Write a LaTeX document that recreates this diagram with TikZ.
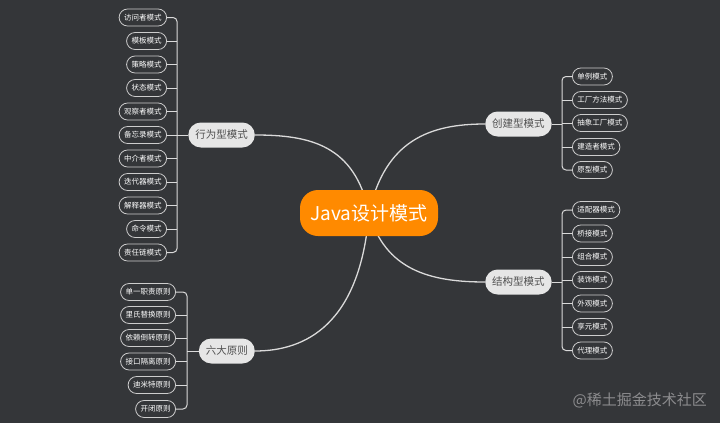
\documentclass[tikz,border=0pt]{standalone}
\usepackage{fontspec}
\newfontfamily\cjk{Noto Sans CJK SC}
\definecolor{bgc}{RGB}{52,54,57}
\definecolor{orangec}{RGB}{255,138,0}
\definecolor{branchc}{RGB}{230,230,230}
\definecolor{branchtext}{RGB}{80,80,80}
\definecolor{leafc}{RGB}{205,205,205}
\definecolor{linec}{RGB}{218,218,218}
\definecolor{markc}{RGB}{140,140,142}
\tikzset{
  leaf/.style={draw=leafc, fill=bgc, text=white, line width=0.8pt,
    font=\cjk\fontsize{7.5}{9}\selectfont, rounded corners=8.5pt,
    minimum height=17pt, inner xsep=5pt, inner ysep=0pt},
  branch/.style={fill=branchc, text=branchtext,
    font=\cjk\fontsize{10.5}{12}\selectfont, rounded corners=12.5pt,
    minimum height=25pt, inner xsep=7pt, inner ysep=0pt},
  centre/.style={fill=orangec, text=white, font=\cjk\fontsize{19}{22}\selectfont,
    rounded corners=18pt, minimum height=46pt, minimum width=138pt, inner sep=0pt},
  link/.style={draw=linec, line width=1.3pt},
  bracket/.style={draw=linec, line width=1pt, rounded corners=4pt}
}
\begin{document}
\begin{tikzpicture}[x=1pt,y=-1pt]
\fill[bgc] (0,0) rectangle (720,423);
\useasboundingbox (0,0) rectangle (720,423);

% main curves
\coordinate (c0) at (369,213);
\node[branch, anchor=east] (beh) at (255,135) {行为型模式};
\node[branch, anchor=east] (pri) at (255,351) {六大原则};
\node[branch, anchor=west] (cre) at (485,124) {创建型模式};
\node[branch, anchor=west] (str) at (485,282) {结构型模式};
\draw[link] (c0) .. controls (355,145) and (310,135) .. (beh.east);
\draw[link] (c0) .. controls (360,325) and (305,351) .. (pri.east);
\draw[link] (c0) .. controls (385,140) and (430,124) .. (cre.west);
\draw[link] (c0) .. controls (385,270) and (430,282) .. (str.west);
\node[centre] (root) at (369,213) {Java设计模式};

% behavioural leaves
\node[leaf, anchor=east] (b1) at (167,17.5) {访问者模式};
\node[leaf, anchor=east] (b2) at (167,41) {模板模式};
\node[leaf, anchor=east] (b3) at (167,64.5) {策略模式};
\node[leaf, anchor=east] (b4) at (167,88) {状态模式};
\node[leaf, anchor=east] (b5) at (167,111.5) {观察者模式};
\node[leaf, anchor=east] (b6) at (167,135) {备忘录模式};
\node[leaf, anchor=east] (b7) at (167,158.5) {中介者模式};
\node[leaf, anchor=east] (b8) at (167,182) {迭代器模式};
\node[leaf, anchor=east] (b9) at (167,205.5) {解释器模式};
\node[leaf, anchor=east] (b10) at (167,229) {命令模式};
\node[leaf, anchor=east] (b11) at (167,252.5) {责任链模式};
\coordinate (bv) at (177,135);
\draw[bracket] (beh.west) -- (bv);
\draw[bracket] (b1.east) -| (bv) |- (b11.east);
\foreach \i in {2,...,10} \draw[bracket] (b\i.east) -- (b\i.east -| bv);

% principles
\node[leaf, anchor=east] (p1) at (176,292) {单一职责原则};
\node[leaf, anchor=east] (p2) at (176,315) {里氏替换原则};
\node[leaf, anchor=east] (p3) at (176,338) {依赖倒转原则};
\node[leaf, anchor=east] (p4) at (176,361.5) {接口隔离原则};
\node[leaf, anchor=east] (p5) at (176,385) {迪米特原则};
\node[leaf, anchor=east] (p6) at (176,409) {开闭原则};
\coordinate (pv) at (187,351);
\draw[bracket] (pri.west) -- (pv);
\draw[bracket] (p1.east) -| (pv) |- (p6.east);
\foreach \i in {2,...,5} \draw[bracket] (p\i.east) -- (p\i.east -| pv);

% creational
\node[leaf, anchor=west] (c1) at (572,76.5) {单例模式};
\node[leaf, anchor=west] (c2) at (572,100) {工厂方法模式};
\node[leaf, anchor=west] (c3) at (572,123) {抽象工厂模式};
\node[leaf, anchor=west] (c4) at (572,147) {建造者模式};
\node[leaf, anchor=west] (c5) at (572,170) {原型模式};
\coordinate (cv) at (562,124);
\draw[bracket] (cre.east) -- (cv);
\draw[bracket] (c1.west) -| (cv) |- (c5.west);
\foreach \i in {2,...,4} \draw[bracket] (c\i.west) -- (c\i.west -| cv);

% structural
\node[leaf, anchor=west] (s1) at (572,210) {适配器模式};
\node[leaf, anchor=west] (s2) at (572,233.5) {桥接模式};
\node[leaf, anchor=west] (s3) at (572,257) {组合模式};
\node[leaf, anchor=west] (s4) at (572,280) {装饰模式};
\node[leaf, anchor=west] (s5) at (572,303.5) {外观模式};
\node[leaf, anchor=west] (s6) at (572,327) {享元模式};
\node[leaf, anchor=west] (s7) at (572,350.5) {代理模式};
\coordinate (sv) at (562,282);
\draw[bracket] (str.east) -- (sv);
\draw[bracket] (s1.west) -| (sv) |- (s7.west);
\foreach \i in {2,...,6} \draw[bracket] (s\i.west) -- (s\i.west -| sv);

% watermark
\node[text=markc, font=\cjk\fontsize{15}{17}\selectfont, anchor=east, inner sep=0pt] (wm) at (707,400) {@稀土掘金技术社区};
\end{tikzpicture}
\end{document}
